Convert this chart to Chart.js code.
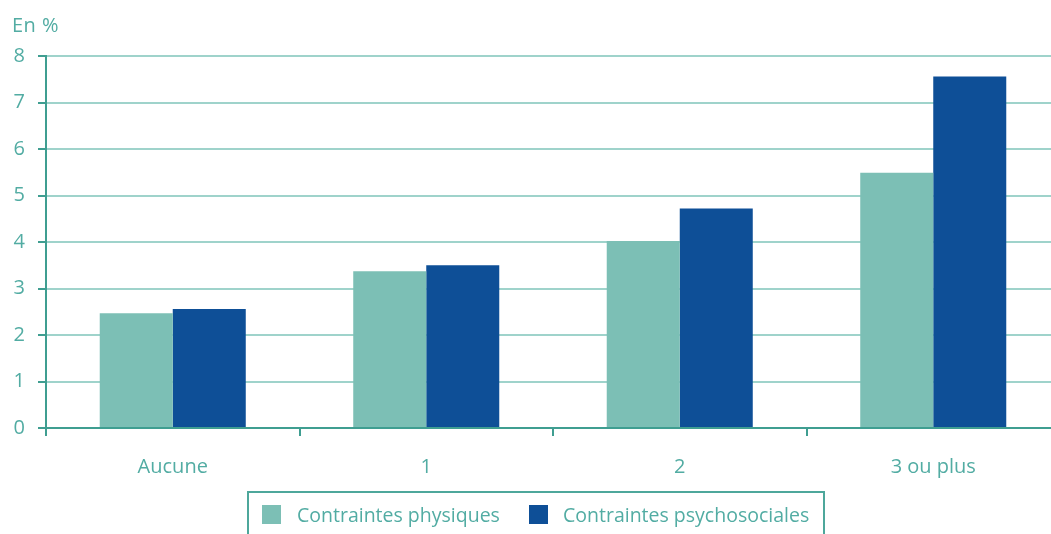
<!DOCTYPE html>
<html lang="fr">
<head>
<meta charset="utf-8">
<script src="https://cdn.jsdelivr.net/npm/chart.js@4/dist/chart.umd.min.js"></script>
<style>
  html, body { margin: 0; padding: 0; background: #fff; overflow: hidden; }
  #wrap { position: relative; width: 1051px; height: 534px; overflow: hidden; }
  #unit { position: absolute; left: 12px; top: 11px; font: 20px "Open Sans", sans-serif; color: #52aca3; letter-spacing: 0.5px; }
  #legend {
    position: absolute; left: 247px; top: 491px; width: 578px; height: 60px;
    border: 2px solid #4da79b; box-sizing: border-box;
    font: 19.5px "Open Sans", sans-serif; color: #52aca3;
  }
  #legend span { position: absolute; top: 9px; line-height: 26px; }
  #legend i { position: absolute; top: 12px; width: 19px; height: 19px; }
</style>
</head>
<body>
<div id="wrap">
  <canvas id="chart" width="1060" height="534"></canvas>
  <div id="unit">En %</div>
  <div id="legend"></div>
</div>
<script>
const categories = ['Aucune', '1', '2', '3 ou plus'];
const physiques = [2.47, 3.37, 4.02, 5.49];
const psychosociales = [2.56, 3.50, 4.72, 7.56];
const seriesNames = ['Contraintes physiques', 'Contraintes psychosociales'];
const seriesColors = ['#7cbfb5', '#0e4f97'];

const teal = '#52aca3';
const axisTeal = '#3f9e91';
const gridTeal = '#9fd3cb';

// legend boxed under the axis, built from the series names
const legend = document.getElementById('legend');
const legendX = [[13, 48], [280, 314]];
seriesNames.forEach(function (name, i) {
  const sw = document.createElement('i');
  sw.style.left = legendX[i][0] + 'px';
  sw.style.background = seriesColors[i];
  legend.appendChild(sw);
  const txt = document.createElement('span');
  txt.style.left = legendX[i][1] + 'px';
  txt.textContent = name;
  legend.appendChild(txt);
});

const ctx = document.getElementById('chart');

const chart = new Chart(ctx, {
  type: 'bar',
  data: {
    labels: categories,
    datasets: [{
      label: seriesNames[0],
      data: physiques,
      backgroundColor: seriesColors[0],
      categoryPercentage: 0.576,
      barPercentage: 1
    }, {
      label: seriesNames[1],
      data: psychosociales,
      backgroundColor: seriesColors[1],
      categoryPercentage: 0.576,
      barPercentage: 1
    }]
  },
  options: {
    responsive: false,
    animation: false,
    layout: { padding: { top: 56, left: 0, right: 0, bottom: 0 } },
    plugins: {
      legend: { display: false },
      tooltip: { enabled: false }
    },
    scales: {
      x: {
        afterFit: function (scale) { scale.height = 106; },
        grid: {
          drawOnChartArea: false,
          drawTicks: true,
          tickLength: 8,
          tickColor: axisTeal,
          lineWidth: 2
        },
        border: { color: axisTeal, width: 2 },
        ticks: {
          color: teal,
          padding: 19,
          font: { family: '"Open Sans", sans-serif', size: 20 }
        }
      },
      y: {
        min: 0,
        max: 8,
        afterFit: function (scale) { scale.width = 46; },
        grid: {
          color: gridTeal,
          lineWidth: 2,
          tickLength: 8,
          tickColor: axisTeal
        },
        border: { color: axisTeal, width: 2 },
        ticks: {
          stepSize: 1,
          color: teal,
          padding: 13,
          font: { family: '"Open Sans", sans-serif', size: 20 }
        }
      }
    }
  }
});
</script>
</body>
</html>
